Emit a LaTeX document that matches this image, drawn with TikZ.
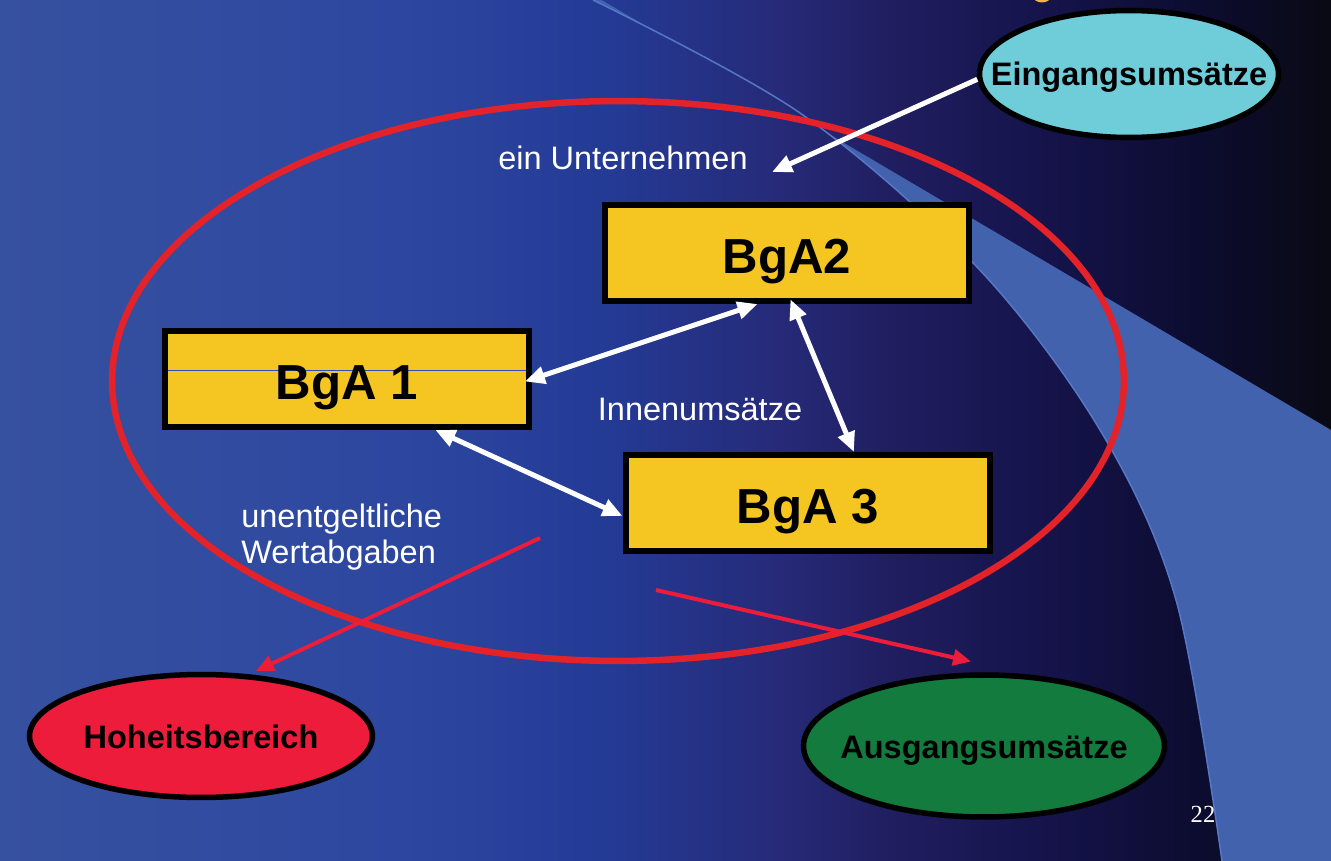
\documentclass[tikz,border=0pt]{standalone}
\usepackage{fontspec}
\setmainfont{Liberation Sans}
\newfontfamily\pagenumfont{Liberation Serif}
\usetikzlibrary{shapes.geometric,arrows.meta,calc}

\definecolor{bgayellow}{HTML}{F5C622}
\definecolor{eincyan}{HTML}{6FCDD9}
\definecolor{ausgreen}{HTML}{137B3D}
\definecolor{hohred}{HTML}{EC1C3A}
\definecolor{ringred}{HTML}{E42229}
\definecolor{wedgeblue}{HTML}{4262AE}
\definecolor{arcline}{HTML}{5677C4}
\definecolor{streakblue}{HTML}{2F4FC0}
\definecolor{sunorange}{HTML}{F2B445}
\definecolor{bgA}{HTML}{36519F}
\definecolor{bgB}{HTML}{2D47A0}
\definecolor{bgC}{HTML}{243B96}
\definecolor{bgD}{HTML}{262A78}
\definecolor{bgE}{HTML}{1F1D5E}
\definecolor{bgF}{HTML}{15134A}
\definecolor{bgG}{HTML}{0C0C30}
\definecolor{bgH}{HTML}{0A0A14}

\pgfdeclarehorizontalshading{slidebg}{100bp}{color(0bp)=(bgA); color(25bp)=(bgA);
  color(40bp)=(bgB); color(47.5bp)=(bgC); color(54.3bp)=(bgD); color(58.8bp)=(bgE);
  color(64.4bp)=(bgF); color(70bp)=(bgG); color(75bp)=(bgH); color(100bp)=(bgH)}

\def\arcpts{(593,0) (800,113) (977,267) (1100,430) (1176,600) (1222,861)}

\begin{document}
\begin{tikzpicture}[x=0.02cm,y=-0.02cm]
   \tikzset{box/.style = {draw=black,line width=0.12cm,fill=bgayellow,minimum width=7.3cm,minimum height=1.92cm,inner sep=0pt,
                          font=\fontsize{28}{32}\selectfont\bfseries,text height=0.84cm,text depth=0pt}}
   \tikzset{oval/.style = {ellipse,draw=black,line width=0.11cm,inner sep=0pt}}
   \tikzset{ovaltext/.style = {inner sep=0pt,font=\fontsize{18.5}{22}\selectfont\bfseries,text height=0.48cm,text depth=0pt}}
   \tikzset{note/.style = {text=white,inner sep=0pt,font=\fontsize{18.5}{20.4}\selectfont}}
   \tikzset{flow/.style = {draw=white,line width=0.1cm,-{Triangle[length=0.4cm,width=0.34cm]}}}
   \tikzset{both/.style = {flow,{Triangle[length=0.4cm,width=0.34cm]}-{Triangle[length=0.4cm,width=0.34cm]}}}
   \tikzset{redflow/.style = {draw=hohred,line width=0.08cm,-{Triangle[length=0.36cm,width=0.32cm]}}}

   % slide background
   \useasboundingbox (0,0) rectangle (1331,861);
   \shade[shading=slidebg] (0,0) rectangle (1331,861);
   \begin{scope}
      \clip plot[smooth,tension=0.55] coordinates {\arcpts} -- (1331,861) -- (1331,0) -- cycle;
      \fill[wedgeblue] (593,-5) -- (1331,430) -- (1331,861) -- (500,861) -- cycle;
   \end{scope}
   \draw[arcline,line width=0.03cm] plot[smooth,tension=0.55] coordinates {\arcpts};
   \fill[sunorange] (1042,-4) ellipse [x radius=0.18cm, y radius=0.13cm];

   % ein Unternehmen
   \draw[ringred,line width=0.13cm] (618,381) ellipse [x radius=10.12cm, y radius=5.6cm];

   \node[box,path picture={\draw[streakblue,line width=0.02cm] ([yshift=0.18cm]path picture bounding box.west) -- ([yshift=0.18cm]path picture bounding box.east);}] (bga1) at (347,379) {BgA 1};
   \node[box] (bga2) at (787,253) {BgA2};
   \node[box] (bga3) at (808,503) {BgA 3};

   \node[oval,fill=eincyan,minimum width=5.98cm,minimum height=2.54cm,label={[ovaltext]center:Eingangsumsätze}] (ein) at (1129,74) {};
   \node[oval,fill=hohred,minimum width=6.86cm,minimum height=2.46cm,label={[ovaltext]center:Hoheitsbereich}] (hoh) at (201,736) {};
   \node[oval,fill=ausgreen,minimum width=7.22cm,minimum height=2.84cm,label={[ovaltext]center:Ausgangsumsätze}] (aus) at (984,746) {};

   \node[note,anchor=base] (unternehmen) at (623,170) {ein Unternehmen};
   \node[note,anchor=base] (innen) at (700,420) {Innenumsätze};
   \node[note,anchor=base west,align=left] (wert) at (241,563) {unentgeltliche\\Wertabgaben};
   \node[text=white,inner sep=0pt,anchor=base,font=\pagenumfont\fontsize{14}{16}\selectfont] (seite) at (1203,822) {22};

   \coordinate (eintritt) at (772,172);
   \coordinate (wertweg) at (540,538);
   \coordinate (ausweg) at (656,590);

   \draw[flow] (ein.182) -- (eintritt);
   \draw[both,shorten <=-0.16cm] (bga1.east) -- (bga2.240);
   \draw[both,shorten <=-0.1cm] (bga2.276) -- (bga3.48);
   \draw[both] (bga1.330) -- (bga3.184);
   \draw[redflow] (wertweg) -- ([yshift=0.08cm]hoh.48);
   \draw[redflow] (ausweg) -- ([yshift=0.22cm]aus.100);
\end{tikzpicture}
\end{document}
